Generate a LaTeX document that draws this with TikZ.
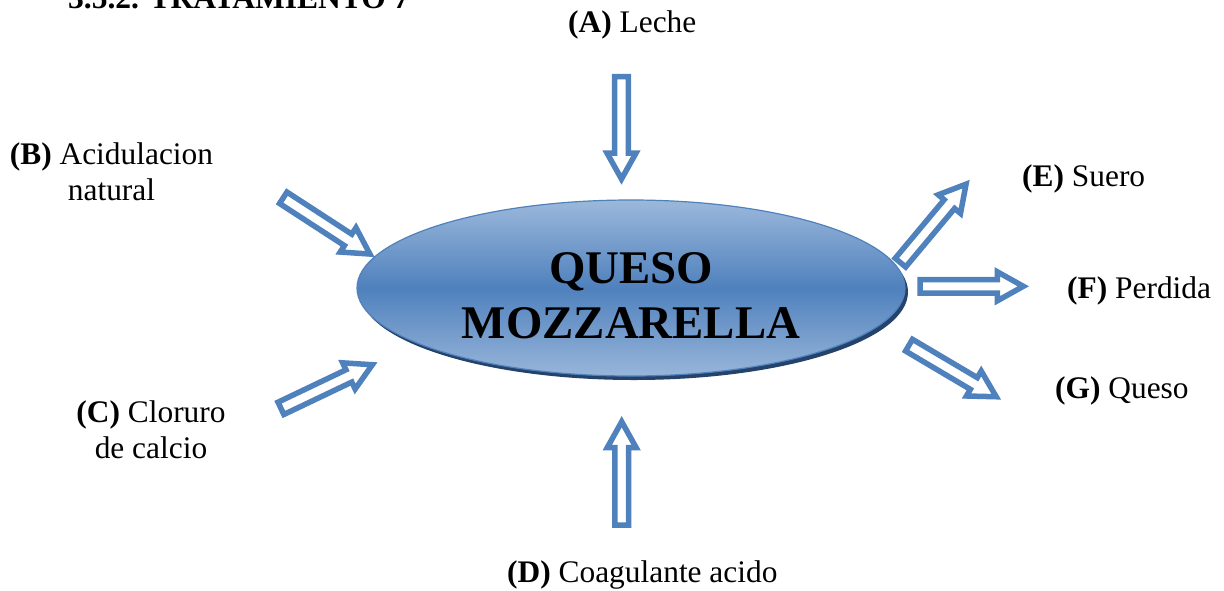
\documentclass[tikz,border=0pt]{standalone}
\usepackage{fontspec}
\setmainfont{Liberation Serif}
\usetikzlibrary{calc}
\definecolor{ablue}{HTML}{4F81BD}
\definecolor{lblue}{HTML}{9CB8DB}
\definecolor{mblue}{HTML}{4F81BD}
\definecolor{dblue}{HTML}{24426A}
\tikzset{
  blockarrow/.style={draw=ablue, line width=5.5pt, fill=white, line join=miter},
  lbl/.style={inner sep=0pt, font=\fontsize{31.4}{36}\selectfont, align=center},
  bigtxt/.style={inner sep=0pt, font=\bfseries\fontsize{46.8}{55}\selectfont, align=center},
}
\newcommand\barrow[5]{%
  \begin{scope}[shift={(#2,#3)},rotate=#4]
    \coordinate (#1) at (0,0);
    \draw[blockarrow] (2.7,-6.8) -- ({#5-32},-6.8) -- ({#5-32},-14.5) -- ({#5-6},0)
      -- ({#5-32},14.5) -- ({#5-32},6.8) -- (2.7,6.8) -- cycle;
  \end{scope}}
\begin{document}
\begin{tikzpicture}[x=1pt,y=-1pt]
  \fill[white] (0,0) rectangle (1224,590);
  \useasboundingbox (0,0) rectangle (1224,590);
  % title (cut off at top, as in the reference)
  \node[lbl, font=\bfseries\fontsize{31.5}{37}\selectfont, anchor=base west] (title) at (68,8) {3.5.2. TRATAMIENTO 7};
  % central ellipse
  \coordinate (c) at (631,288);
  \fill[dblue] ($(c)+(3,4)$) ellipse [x radius=274pt, y radius=88pt];
  \shade[top color=lblue, bottom color=lblue!95!ablue, middle color=mblue, draw=ablue, line width=1.2pt]
    (c) ellipse [x radius=274pt, y radius=88pt];
  \node[bigtxt, anchor=base] (queso) at (631,338) {QUESO\\MOZZARELLA};
  % arrows
  \barrow{arA}{621.5}{74}{-90}{111}
  \barrow{arB}{281}{196.3}{-33}{112}
  \barrow{arC}{278.5}{409.5}{25.5}{110}
  \barrow{arD}{621.7}{527.7}{90}{112}
  \barrow{arE}{898.7}{264.7}{50.1}{111}
  \barrow{arF}{917.3}{286.3}{0}{112}
  \barrow{arG}{906.7}{343.8}{-30.6}{110}
  % labels
  \node[lbl, anchor=base west] (labA) at (568,32) {\textbf{(A)} Leche};
  \node[lbl, anchor=base] (labB) at (111.5,200.5) {\textbf{(B)} Acidulacion\\natural};
  \node[lbl, anchor=base] (labC) at (151,458) {\textbf{(C)} Cloruro\\de calcio};
  \node[lbl, anchor=base west] (labD) at (507,582) {\textbf{(D)} Coagulante acido};
  \node[lbl, anchor=base west] (labE) at (1022,186) {\textbf{(E)} Suero};
  \node[lbl, anchor=base west] (labF) at (1067,298) {\textbf{(F)} Perdida};
  \node[lbl, anchor=base west] (labG) at (1055,398) {\textbf{(G)} Queso};
\end{tikzpicture}
\end{document}
